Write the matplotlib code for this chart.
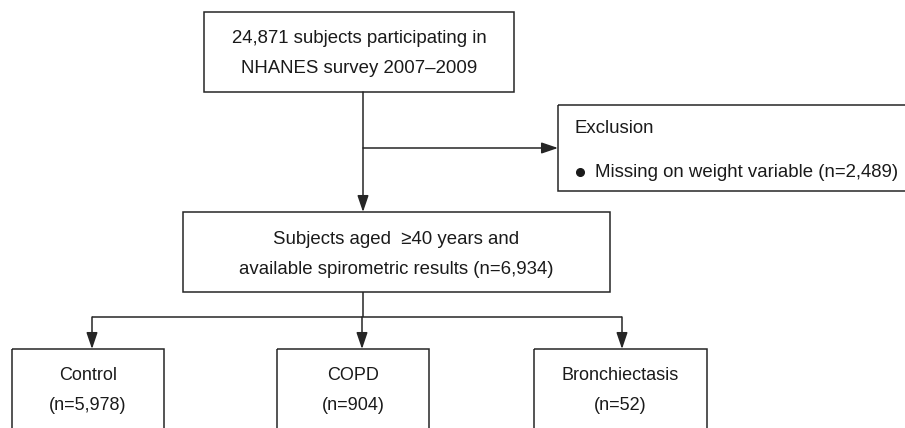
import matplotlib
matplotlib.use("Agg")
import matplotlib.pyplot as plt
from matplotlib.patches import Rectangle, FancyArrowPatch

# ---- content ----
top_lines = ["24,871 subjects participating in", "NHANES survey 2007\u20132009"]
exclusion_title = "Exclusion"
exclusion_items = ["Missing on weight variable (n=2,489)"]
middle_lines = ["Subjects aged  \u226540 years and", "available spirometric results (n=6,934)"]
group_names = ["Control", "COPD", "Bronchiectasis"]
group_counts = ["5,978", "904", "52"]

W, H = 905, 428
fig = plt.figure(figsize=(W / 100, H / 100), dpi=100)
ax = fig.add_axes([0, 0, 1, 1])
ax.set_xlim(0, W)
ax.set_ylim(H, 0)
ax.axis("off")

LC = "#262626"
LW = 1.1
FONT = "Liberation Sans"
FS = 13.4
TC = "#1a1a1a"


def box(x0, y0, x1, y1):
    ax.add_patch(Rectangle((x0, y0), x1 - x0, y1 - y0, fill=False,
                           edgecolor=LC, linewidth=LW, clip_on=False))


def line(xs, ys):
    ax.plot(xs, ys, color=LC, linewidth=LW, solid_capstyle="butt")


def arrow(p0, p1):
    ax.add_patch(FancyArrowPatch(p0, p1, arrowstyle="-|>,head_length=1.0,head_width=0.34",
                                 mutation_scale=10, color=LC, linewidth=LW,
                                 shrinkA=0, shrinkB=0))


def text(x, y, s, ha="center", fs=FS):
    ax.text(x, y, s, ha=ha, va="center", fontsize=fs, family=FONT, color=TC)


# top box
box(204, 12, 514, 92)
text(359, 38, top_lines[0])
text(359, 68, top_lines[1])

# vertical connector with exclusion branch
arrow((363, 92), (363, 212))
arrow((363, 148), (558, 148))

# exclusion box (extends past right edge)
box(558, 105, 912, 191)
text(574, 128, exclusion_title, ha="left")
for i, item in enumerate(exclusion_items):
    ax.plot([580], [172 + i * 30], marker="o", markersize=5.5, color=TC)
    text(595, 172 + i * 30, item, ha="left")

# middle box
box(183, 212, 610, 292)
text(396, 239, middle_lines[0])
text(396, 269, middle_lines[1])

# branch to groups
line([363, 363], [292, 317])
arrow_x = [92, 362, 622]
line([arrow_x[0], arrow_x[-1]], [317, 317])
boxes_x = [(12, 164), (277, 429), (534, 707)]
for ax_x, (x0, x1), name, cnt in zip(arrow_x, boxes_x, group_names, group_counts):
    arrow((ax_x, 317), (ax_x, 349))
    box(x0, 349, x1, 440)
    cx = (x0 + x1) / 2
    text(cx, 376, name, fs=13.0)
    text(cx, 406, f"(n={cnt})", fs=13.0)

fig.savefig("out.png", dpi=100)
